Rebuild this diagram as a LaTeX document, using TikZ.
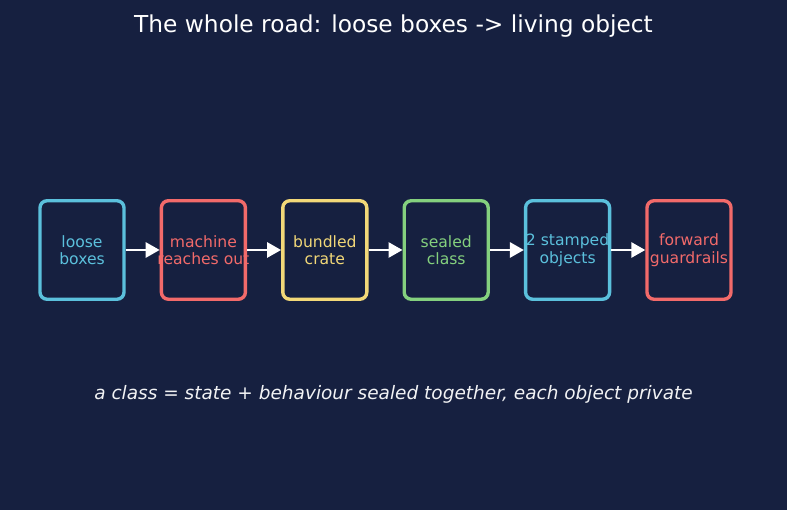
\documentclass[tikz,border=0pt]{standalone}
\usepackage{fontspec}
\setmainfont{DejaVu Sans}
\usetikzlibrary{arrows.meta,positioning}
\definecolor{bgnavy}{HTML}{162040}
\definecolor{skyc}{HTML}{5BC0DC}
\definecolor{redc}{HTML}{F26A6A}
\definecolor{yelc}{HTML}{F2D878}
\definecolor{grnc}{HTML}{84D07E}
\newcommand{\twoline}[2]{\makebox[0pt]{#1}\\\makebox[0pt]{#2}}

\begin{document}
\begin{tikzpicture}[node distance=34pt]
\tikzset{stage/.style={draw=#1,text=#1,line width=3.4pt,rounded corners=7pt,fill=bgnavy,align=center,inner sep=0pt,minimum width=84pt,minimum height=98.5pt,font=\fontsize{15.6}{17.5}\selectfont}}
\tikzset{flowarrow/.style={white,line width=2.8pt,-{Triangle[length=14pt,width=15pt]}}}
\fill[bgnavy] (0,0) rectangle (787pt,510pt);
\useasboundingbox (0,0) rectangle (787pt,510pt);
\node[white,font=\fontsize{23.3}{27}\selectfont] (title) at (393.5pt,484pt) {The whole road: loose boxes -> living object};
\node[stage=skyc] (a) at (82pt,260pt) {\twoline{loose}{boxes}};
\node[stage=redc,right=of a] (b) {\twoline{machine}{reaches out}};
\node[stage=yelc,right=of b] (c) {\twoline{bundled}{crate}};
\node[stage=grnc,right=of c] (d) {\twoline{sealed}{class}};
\node[stage=skyc,right=of d] (e) {\twoline{2 stamped}{objects}};
\node[stage=redc,right=of e] (f) {\twoline{forward}{guardrails}};
\draw[flowarrow] (a)--(b); \draw[flowarrow] (b)--(c); \draw[flowarrow] (c)--(d); \draw[flowarrow] (d)--(e); \draw[flowarrow] (e)--(f);
\node[text=white!94!bgnavy,font=\fontsize{18.5}{22}\selectfont\itshape] (note) at (393.5pt,116pt) {a class = state + behaviour sealed together, each object private};
\end{tikzpicture}
\end{document}
